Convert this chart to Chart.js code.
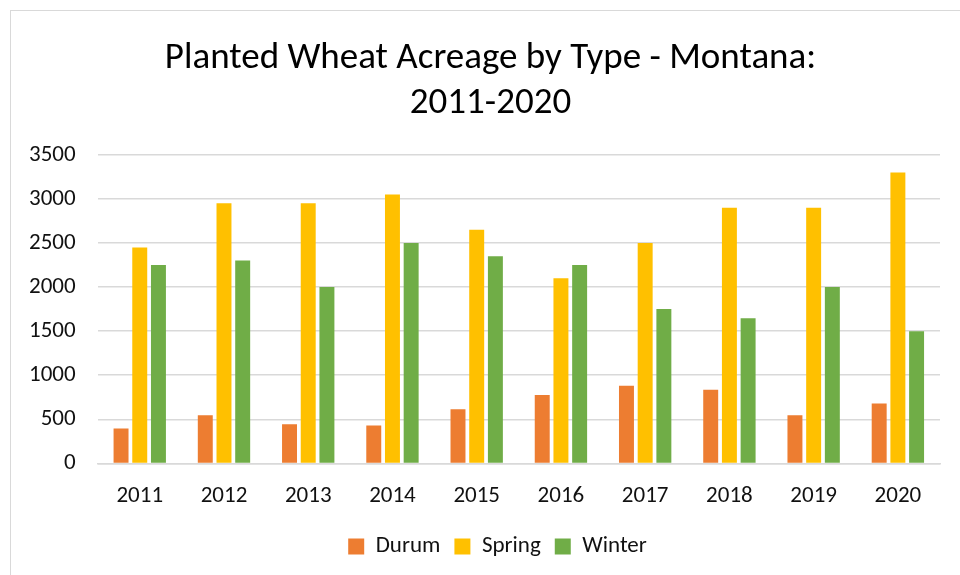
<!DOCTYPE html>
<html>
<head>
<meta charset="utf-8">
<script src="https://cdn.jsdelivr.net/npm/chart.js@4"></script>
<style>
  html, body { margin: 0; padding: 0; background: #fff; }
  #wrap { position: absolute; left: 10px; top: 10px; width: 960px; height: 575px; border: 1px solid #d9d9d9; box-sizing: border-box; }
  #chart { position: absolute; left: 0; top: 0; }
</style>
</head>
<body>
<div id="wrap"></div>
<canvas id="chart" width="960" height="575"></canvas>
<script>
const years = ["2011", "2012", "2013", "2014", "2015", "2016", "2017", "2018", "2019", "2020"];
const durum = [395, 545, 445, 430, 615, 775, 880, 835, 545, 680];
const spring = [2450, 2950, 2950, 3050, 2650, 2100, 2500, 2900, 2900, 3300];
const winter = [2250, 2300, 2000, 2500, 2350, 2250, 1750, 1645, 2000, 1500];
const yTicks = [0, 500, 1000, 1500, 2000, 2500, 3000, 3500];

const font = "Calibri, Carlito, 'Liberation Sans Narrow', 'Liberation Sans', sans-serif";

// title and legend sit a little right of canvas centre in the original
const shiftBoxes = {
  id: 'shiftBoxes',
  afterLayout(chart) {
    chart.legend.left += 24;
    chart.legend.right += 24;
    chart.titleBlock.left += 17;
    chart.titleBlock.right += 17;
  }
};

const ctx = document.getElementById('chart').getContext('2d');
new Chart(ctx, {
  type: 'bar',
  data: {
    labels: years,
    datasets: [
      { label: 'Durum', data: durum, backgroundColor: '#ed7d31' },
      { label: 'Spring', data: spring, backgroundColor: '#ffc000' },
      { label: 'Winter', data: winter, backgroundColor: '#70ad47' }
    ]
  },
  options: {
    responsive: false,
    animation: false,
    categoryPercentage: 0.666,
    barPercentage: 0.8,
    layout: { padding: { left: 7, right: 20, top: 12, bottom: 7 } },
    plugins: {
      title: {
        display: true,
        text: ['Planted Wheat Acreage by Type - Montana:', '2011-2020'],
        color: '#000',
        font: { family: font, size: 37, weight: 'normal' },
        lineHeight: 1.16,
        padding: { top: 25, bottom: 29 }
      },
      legend: {
        position: 'bottom',
        labels: {
          color: '#111',
          font: { family: font, size: 23 },
          boxWidth: 16,
          boxHeight: 16,
          padding: 14
        }
      },
      tooltip: { enabled: false }
    },
    scales: {
      x: {
        grid: { display: false },
        border: { color: '#d9d9d9', width: 1.5 },
        ticks: { color: '#111', font: { family: font, size: 23 }, padding: 11 }
      },
      y: {
        min: 0,
        max: 3500,
        afterBuildTicks: axis => { axis.ticks = yTicks.map(v => ({ value: v })); },
        grid: { color: '#d9d9d9', lineWidth: 1.5, drawTicks: false },
        border: { display: false },
        ticks: { color: '#111', font: { family: font, size: 23 }, padding: 22, callback: v => String(v) }
      }
    }
  },
  plugins: [shiftBoxes]
});
</script>
</body>
</html>
